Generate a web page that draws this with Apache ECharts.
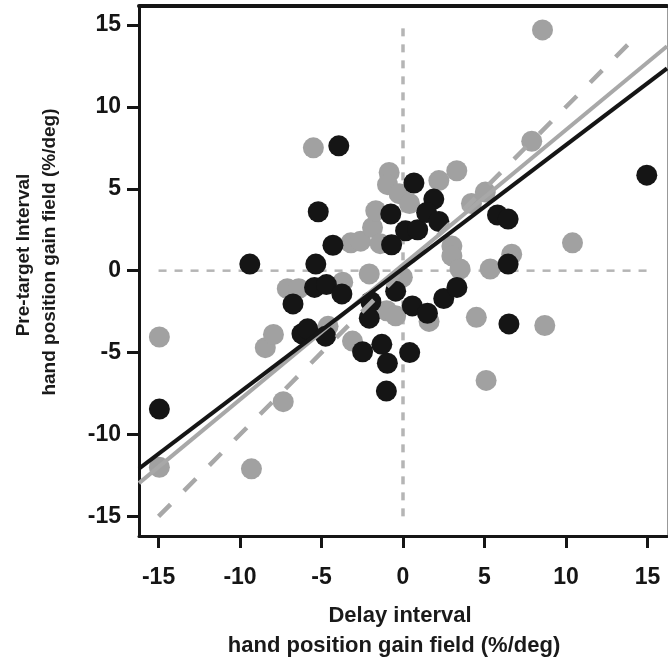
<!DOCTYPE html>
<html>
<head>
<meta charset="utf-8">
<script src="https://cdn.jsdelivr.net/npm/echarts@6/dist/echarts.min.js"></script>
<style>html,body{margin:0;padding:0;background:#fff;}#chart{width:668px;height:662px;}</style>
</head>
<body>
<div id="chart"></div>
<script>
// Gray points (x: delay interval, y: pre-target interval)
const grayPoints = [
  [-14.95,-4.05],[-14.95,-12.0],[-9.3,-12.1],[-7.35,-8.0],[-8.45,-4.7],[-7.95,-3.9],
  [-7.1,-1.1],[-6.4,-1.1],[-5.5,7.5],[-4.6,-3.4],[-3.7,-0.7],[-3.1,-4.3],
  [-3.2,1.7],[-2.6,1.8],[-2.07,-0.2],[-1.87,2.64],[-1.67,3.66],[-1.4,1.65],
  [-0.85,6.0],[-0.95,5.25],[-0.24,4.7],[0.4,4.1],[-0.04,-0.4],[-1.0,-2.45],
  [-0.45,-2.75],[1.6,-3.1],[2.2,5.5],[3.3,6.1],[3.0,1.5],[3.0,0.9],
  [3.5,0.1],[4.5,-2.85],[4.2,4.1],[5.05,4.8],[5.35,0.1],[6.67,1.0],
  [7.9,7.9],[8.56,14.7],[8.7,-3.35],[10.4,1.7],[5.1,-6.7]
];
// Black points
const blackPoints = [
  [-14.95,-8.45],[-9.4,0.4],[-5.35,0.4],[-5.2,3.6],[-3.94,7.62],[-4.3,1.55],
  [-6.75,-2.03],[-5.43,-1.02],[-4.7,-0.85],[-6.2,-3.85],[-5.85,-3.55],[-4.75,-4.0],
  [-3.75,-1.42],[-1.97,-1.9],[-2.07,-2.9],[-2.48,-4.95],[-1.3,-4.5],[-0.96,-5.65],
  [-1.02,-7.35],[-0.45,-1.25],[0.57,-2.15],[1.5,-2.6],[0.41,-5.0],[2.5,-1.7],
  [3.31,-1.02],[-0.75,3.46],[-0.7,1.58],[0.16,2.44],[0.9,2.5],[0.67,5.35],
  [1.89,4.37],[1.45,3.55],[2.2,3.0],[5.8,3.4],[6.45,3.15],[6.45,0.4],
  [6.5,-3.25],[14.96,5.83]
];
// Reference and fit lines (end points)
const unityLine = [[-15,-15],[14.5,14.5]];
const grayFit = [[-16.2,-12.97],[16.2,13.7]];
const blackFit = [[-16.2,-12.09],[16.2,12.35]];
const zeroH = [[-15,0],[15,0]];
const zeroV = [[0,-15],[0,15]];
const tickValues = [-15,-10,-5,0,5,10,15];
const xTitle = ['Delay interval','hand position gain field (%/deg)'];
const yTitle = ['Pre-target Interval','hand position gain field (%/deg)'];

const FONT = '"Liberation Sans", Arial, sans-serif';
const chart = echarts.init(document.getElementById('chart'), null, {renderer:'canvas'});

function lineSeries(data, color, width, type, z){
  return {type:'line', data:data, symbol:'none', silent:true, z:z,
    lineStyle:{color:color, width:width, type:type, cap:'butt'}, animation:false};
}

const axisCommon = {
  type:'value', splitLine:{show:false},
};

chart.setOption({
  animation:false,
  grid:{left:139, right:1, top:6, bottom:126, containLabel:false},
  xAxis:[
    Object.assign({}, axisCommon, {position:'bottom', min:-16.2, max:16.2,
      axisLine:{onZero:false, lineStyle:{color:'#151515', width:3}},
      axisTick:{length:12, lineStyle:{color:'#151515', width:3}, customValues:tickValues},
      axisLabel:{customValues:tickValues, fontSize:23, fontWeight:'bold', color:'#151515', margin:30, fontFamily:FONT}
    }),
    Object.assign({}, axisCommon, {position:'top', min:-16.2, max:16.2,
      axisLine:{onZero:false, lineStyle:{color:'#151515', width:4}},
      axisTick:{show:false}, axisLabel:{show:false}
    })
  ],
  yAxis:[
    Object.assign({}, axisCommon, {position:'left', min:-16.2, max:16.16,
      axisLine:{onZero:false, lineStyle:{color:'#151515', width:3}},
      axisTick:{length:12, lineStyle:{color:'#151515', width:3}, customValues:tickValues},
      axisLabel:{customValues:tickValues, fontSize:23, fontWeight:'bold', color:'#151515', margin:18, fontFamily:FONT}
    }),
    Object.assign({}, axisCommon, {position:'right', min:-16.2, max:16.16,
      axisLine:{onZero:false, lineStyle:{color:'#999', width:1}},
      axisTick:{show:false}, axisLabel:{show:false}
    })
  ],
  series:[
    lineSeries(zeroH, '#b5b5b5', 2.5, [8,8], 1),
    lineSeries(zeroV, '#b5b5b5', 3.5, [8,8], 1),
    {type:'scatter', data:grayPoints, symbolSize:21, z:2, itemStyle:{color:'#a1a1a1', opacity:1}},
    {type:'scatter', data:blackPoints, symbolSize:21, z:3, itemStyle:{color:'#151515', opacity:1}},
    lineSeries(unityLine, '#a8a8a8', 4.5, [17,19], 4),
    lineSeries(grayFit, '#a8a8a8', 4, 'solid', 4),
    lineSeries(blackFit, '#151515', 4, 'solid', 5)
  ],
  graphic:[
    {type:'text', x:400, y:616, style:{text:xTitle[0], font:'bold 22px '+FONT, fill:'#1a1a1a', textAlign:'center', textVerticalAlign:'middle'}},
    {type:'text', x:394, y:646, style:{text:xTitle[1], font:'bold 22px '+FONT, fill:'#1a1a1a', textAlign:'center', textVerticalAlign:'middle'}},
    {type:'text', x:24, y:255, rotation:Math.PI/2, style:{text:yTitle[0], font:'bold 19px '+FONT, fill:'#1a1a1a', textAlign:'center', textVerticalAlign:'middle'}},
    {type:'text', x:50, y:252, rotation:Math.PI/2, style:{text:yTitle[1], font:'bold 19px '+FONT, fill:'#1a1a1a', textAlign:'center', textVerticalAlign:'middle'}}
  ]
});
</script>
</body>
</html>
